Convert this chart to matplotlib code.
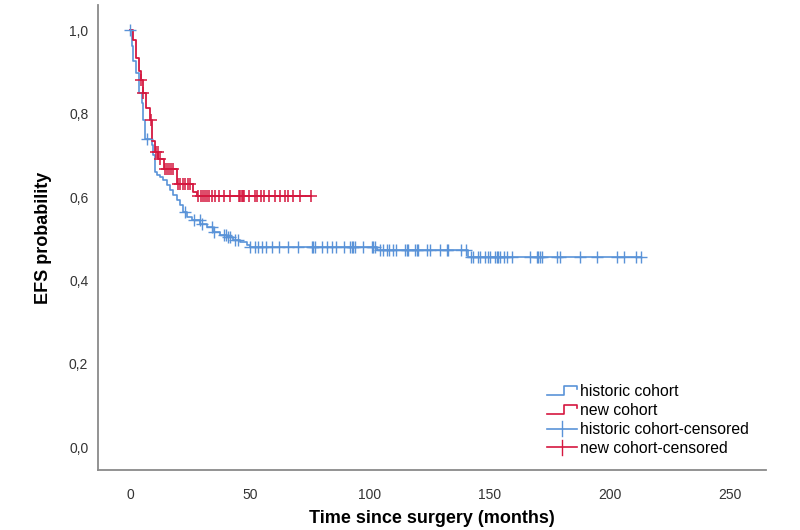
import matplotlib
matplotlib.use("Agg")
import matplotlib.pyplot as plt
from matplotlib.legend_handler import HandlerBase
from matplotlib.lines import Line2D

plt.rcParams["font.family"] = ["Liberation Sans", "DejaVu Sans"]

# Kaplan-Meier curves: event time (months) and survival after the step
hist_times = [0, 1.0, 1.4, 2.5, 3.9, 4.9, 5.5, 6.3, 9.0, 9.7, 10.4, 11.4, 12.5, 13.9, 15.3,
              16.7, 17.9, 19.5, 20.8, 22.2, 23.6, 25.7, 29.2, 32.0, 34.7, 37.5, 40.3, 42.9,
              45.8, 48.6, 50.0, 103.0, 141.0, 213.0]
hist_surv = [1.0, 0.962, 0.926, 0.898, 0.85, 0.826, 0.786, 0.739, 0.724, 0.70, 0.66, 0.652,
             0.648, 0.64, 0.629, 0.617, 0.605, 0.593, 0.581, 0.564, 0.552, 0.545, 0.536,
             0.529, 0.517, 0.51, 0.505, 0.498, 0.493, 0.486, 0.481, 0.474, 0.457, 0.457]

new_times = [0, 1.1, 2.5, 3.6, 4.5, 5.3, 6.5, 8.3, 9.3, 10.4, 11.8, 14.2, 19.5, 26.3, 27.8, 75.5]
new_surv = [1.0, 0.977, 0.933, 0.902, 0.882, 0.85, 0.814, 0.786, 0.735, 0.707, 0.691, 0.667,
            0.632, 0.612, 0.602, 0.602]

hist_censored = [0.2, 7.0, 23.0, 26.5, 29.0, 30.0, 34.0, 35.0, 39.0, 40.0, 41.0, 41.7, 43.7,
                 45.0, 50.0, 52.0, 53.5, 55.0, 56.5, 59.0, 62.0, 65.7, 70.0, 75.7, 76.4, 77.1,
                 80.0, 82.0, 84.0, 86.0, 89.0, 91.7, 92.4, 93.0, 93.7, 97.0, 100.7, 101.4,
                 102.0, 104.0, 105.5, 107.0, 108.0, 109.7, 111.0, 114.6, 115.3, 116.0, 118.7,
                 119.4, 120.0, 123.6, 125.0, 129.0, 132.0, 132.6, 138.0, 140.0, 142.0, 143.0,
                 145.0, 146.0, 147.9, 149.0, 150.0, 152.0, 152.8, 153.4, 154.0, 156.0, 157.0,
                 159.0, 166.7, 169.4, 170.0, 170.8, 171.5, 177.8, 179.0, 187.5, 194.4, 202.8,
                 206.0, 211.0, 213.0]
new_censored = [4.8, 5.5, 8.8, 10.8, 11.5, 12.5, 14.5, 15.3, 16.2, 17.0, 17.8, 20.0, 21.0,
                22.0, 23.0, 24.0, 25.0, 28.5, 29.5, 30.3, 31.2, 32.0, 33.0, 34.0, 35.5, 37.0,
                39.0, 41.5, 45.5, 46.0, 46.5, 47.0, 47.5, 49.5, 52.0, 53.0, 54.5, 56.0, 58.0,
                60.4, 62.5, 64.6, 66.0, 68.0, 71.0, 75.5]

x_ticks = [0, 50, 100, 150, 200, 250]
y_ticks = [0.0, 0.2, 0.4, 0.6, 0.8, 1.0]
legend_labels = ["historic cohort", "new cohort", "historic cohort-censored", "new cohort-censored"]

BLUE = "#5a93d8"
RED = "#d5173f"


def surv_at(times, surv, t):
    value = surv[0]
    for ti, si in zip(times, surv):
        if ti <= t:
            value = si
    return value


class StepHandler(HandlerBase):
    def create_artists(self, legend, orig_handle, xdescent, ydescent, width, height, fontsize, trans):
        x0, x1 = -xdescent, -xdescent + width
        y_lo, y_hi = -ydescent + height * 0.1, -ydescent + height * 0.95
        xm = x0 + width * 0.55
        line = Line2D([x0, xm, xm, x1, x1], [y_lo, y_lo, y_hi, y_hi, y_hi - height * 0.3],
                      color=orig_handle.get_color(), lw=1.2, transform=trans)
        return [line]


class CensorHandler(HandlerBase):
    def create_artists(self, legend, orig_handle, xdescent, ydescent, width, height, fontsize, trans):
        x0, x1 = -xdescent, -xdescent + width
        ym = -ydescent + height * 0.5
        xm = x0 + width * 0.5
        color = orig_handle.get_color()
        hline = Line2D([x0, x1], [ym, ym], color=color, lw=1.2, transform=trans)
        vline = Line2D([xm, xm], [ym - height * 0.7, ym + height * 0.7], color=color,
                       lw=1.0, transform=trans)
        return [hline, vline]


fig = plt.figure(figsize=(8, 5.3), dpi=100)
ax = fig.add_axes([0.1225, 0.113, 0.835, 0.877])

ax.step(hist_times, hist_surv, where="post", color=BLUE, lw=1.2)
ax.step(new_times, new_surv, where="post", color=RED, lw=1.3)
ax.plot(hist_censored, [surv_at(hist_times, hist_surv, t) for t in hist_censored],
        ls="none", marker="+", ms=8, mew=1.0, color=BLUE)
ax.plot(new_censored, [surv_at(new_times, new_surv, t) for t in new_censored],
        ls="none", marker="+", ms=8, mew=1.1, color=RED)

ax.set_xlim(-13.3, 265)
ax.set_ylim(-0.055, 1.06)
ax.set_xticks(x_ticks)
ax.set_yticks(y_ticks)
ax.set_yticklabels([f"{v:.1f}".replace(".", ",") for v in y_ticks])
ax.tick_params(length=0, labelsize=10, colors="#333333")
ax.tick_params(axis="x", pad=13)
ax.tick_params(axis="y", pad=7)

for side in ["top", "right"]:
    ax.spines[side].set_visible(False)
for side in ["left", "bottom"]:
    ax.spines[side].set_color("#8a8a8a")
    ax.spines[side].set_linewidth(1.3)

ax.set_xlabel("Time since surgery (months)", fontsize=13, fontweight="bold", labelpad=6)
ax.set_ylabel("EFS probability", fontsize=13, fontweight="bold", labelpad=12)

h_hist = Line2D([], [], color=BLUE)
h_new = Line2D([], [], color=RED)
h_hc = Line2D([], [], color=BLUE)
h_nc = Line2D([], [], color=RED)
ax.legend([h_hist, h_new, h_hc, h_nc], legend_labels, loc="lower right",
          bbox_to_anchor=(0.995, 0.0), frameon=False, fontsize=11.3,
          handlelength=1.9, handletextpad=0.15, labelspacing=0.25,
          handler_map={h_hist: StepHandler(), h_new: StepHandler(),
                       h_hc: CensorHandler(), h_nc: CensorHandler()})

fig.savefig("out.png", dpi=100)
